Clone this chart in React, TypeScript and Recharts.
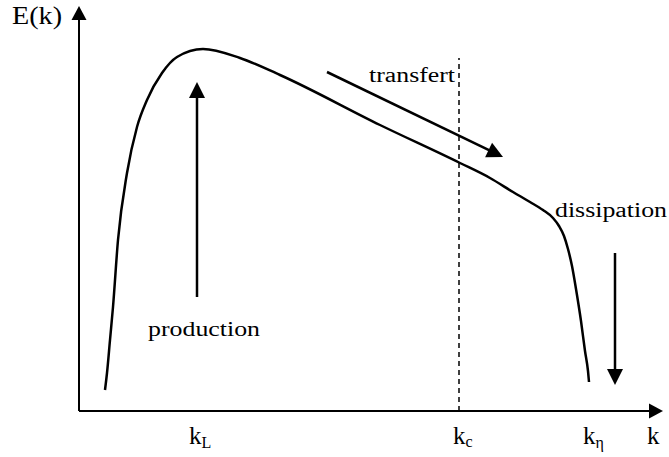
import React from "react";
import { ComposedChart, Line, XAxis, YAxis, ReferenceLine, ReferenceDot } from "recharts";

// energy spectrum curve (k = wavenumber, E = energy)
const curveK = [26, 28, 31, 34, 39, 48, 58, 68, 83, 98, 124, 161, 201, 301, 381, 411, 434, 451, 464, 474, 480, 485, 489, 493, 497, 502, 506, 509, 510];
const curveE = [21, 38, 71, 104, 171, 238, 284, 311, 338, 354, 362, 353, 336, 286, 248, 233, 219, 209, 201, 193, 185, 175, 162, 145, 122, 90, 60, 40, 29];

// arrows: [k1, E1, k2 (tip), E2 (tip)]
const axisArrows = [
  [0, 0, 0, 405],
  [0, 0, 584, 0],
];
const processArrows = [
  [118, 114, 118, 329], // production
  [248, 339, 424, 254], // transfert
  [536, 158, 536, 26], // dissipation
];
const cutoffK = 380;
const cutoffTop = 353;

// annotation texts
const notes = [
  { text: "E(k)", k: -67, E: 387, size: 25, width: 50 },
  { text: "transfert", k: 290, E: 329, size: 20, width: 86 },
  { text: "production", k: 69, E: 75, size: 20, width: 112 },
  { text: "dissipation", k: 476, E: 194, size: 20, width: 112 },
];
const tickLabels = [
  { main: "k", sub: "L", k: 110, subDy: 4 },
  { main: "k", sub: "c", k: 374, subDy: 3 },
  { main: "k", sub: "η", k: 504, subDy: 4 },
  { main: "k", sub: "", k: 568, subDy: 0 },
];
const tickE = -33;

const data = curveK.map((k, i) => ({ k, E: curveE[i] }));
const FONT = "'Liberation Serif', 'Times New Roman', Times, serif";

// line with a filled triangular head at (x2, y2)
const Arrow = (props: any) => {
  const { x1, y1, x2, y2 } = props;
  const head = props.head || 15;
  const half = props.half || 7.5;
  const dx = x2 - x1;
  const dy = y2 - y1;
  const len = Math.sqrt(dx * dx + dy * dy) || 1;
  const ux = dx / len;
  const uy = dy / len;
  const bx = x2 - ux * head;
  const by = y2 - uy * head;
  const pts = `${x2},${y2} ${bx - uy * half},${by + ux * half} ${bx + uy * half},${by - ux * half}`;
  return (
    <g>
      <line x1={x1} y1={y1} x2={bx + ux} y2={by + uy} stroke="#000" strokeWidth={props.sw || 2.5} />
      <polygon points={pts} fill="#000" />
    </g>
  );
};

export default function App() {
  return (
    <div style={{ position: "absolute", left: 0, top: 0, background: "#fff" }}>
      <ComposedChart width={669} height={457} data={data} margin={{ top: 0, right: 0, bottom: 0, left: 0 }}>
        <XAxis type="number" dataKey="k" domain={[-79, 590]} hide />
        <YAxis type="number" domain={[-46, 411]} hide />
        {axisArrows.map((a, i) => (
          <ReferenceLine
            key={"ax" + i}
            segment={[{ x: a[0], y: a[1] }, { x: a[2], y: a[3] }]}
            shape={(p: any) => <Arrow {...p} sw={2} head={14} half={7.5} />}
          />
        ))}
        <ReferenceLine
          segment={[{ x: cutoffK, y: 0 }, { x: cutoffK, y: cutoffTop }]}
          stroke="#000"
          strokeWidth={1.5}
          strokeDasharray="5 4"
        />
        {processArrows.map((a, i) => (
          <ReferenceLine
            key={"pa" + i}
            segment={[{ x: a[0], y: a[1] }, { x: a[2], y: a[3] }]}
            shape={(p: any) => <Arrow {...p} sw={2.5} head={16} half={8} />}
          />
        ))}
        <Line
          type="monotone"
          dataKey="E"
          stroke="#000"
          strokeWidth={2.5}
          dot={false}
          activeDot={false}
          isAnimationActive={false}
        />
        {notes.map((n) => (
          <ReferenceDot
            key={n.text}
            x={n.k}
            y={n.E}
            r={0}
            shape={(p: any) => (
              <text
                x={p.cx}
                y={p.cy}
                style={{ fontFamily: FONT, fontSize: n.size }}
                fill="#000"
                textLength={n.width}
                lengthAdjust="spacingAndGlyphs"
              >
                {n.text}
              </text>
            )}
          />
        ))}
        {tickLabels.map((t, i) => (
          <ReferenceDot
            key={"tl" + i}
            x={t.k}
            y={tickE}
            r={0}
            shape={(p: any) => (
              <text x={p.cx} y={p.cy} style={{ fontFamily: FONT, fontSize: 25 }} fill="#000">
                {t.main}
                {t.sub && (
                  <tspan style={{ fontSize: 16 }} dy={t.subDy}>
                    {t.sub}
                  </tspan>
                )}
              </text>
            )}
          />
        ))}
      </ComposedChart>
    </div>
  );
}
